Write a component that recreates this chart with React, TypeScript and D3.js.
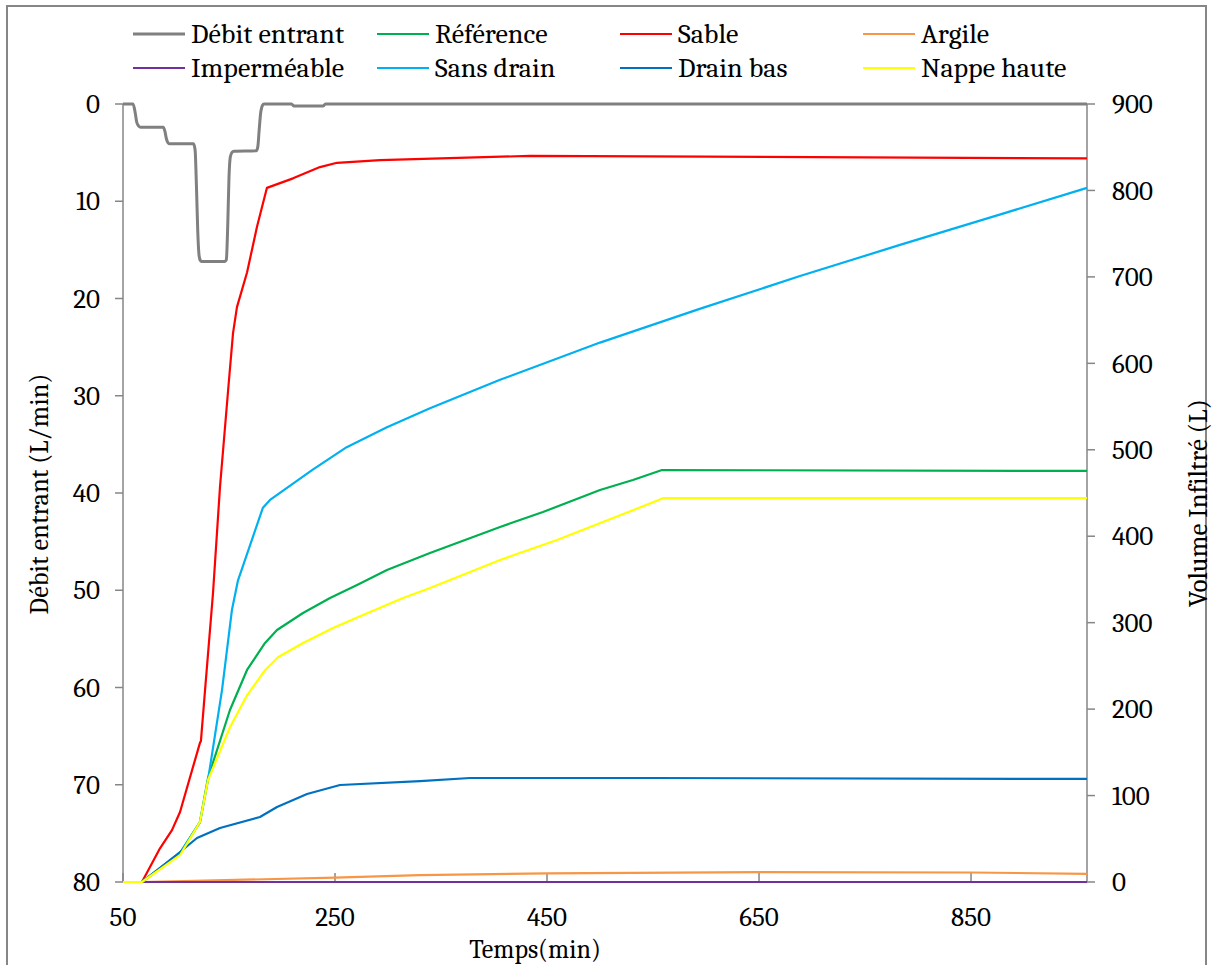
import React from "react";
import * as d3 from "d3";

// ---- Data ----
const debitT = [50, 59.5, 61.5, 63, 65, 66.5, 88, 89.5, 91, 92.5, 94, 116.5, 118, 119.3, 120.5, 121.8, 123, 124.5, 146, 147.5, 148.8, 150, 151.3, 153, 154.5, 176, 177.3, 178.5, 180, 181.5, 183, 209, 211, 239, 241, 959.4];
const debitQ = [0, 0, 0.9, 1.9, 2.3, 2.4, 2.4, 2.8, 3.6, 4.0, 4.1, 4.1, 4.7, 8.5, 13.0, 15.6, 16.1, 16.2, 16.2, 16.0, 12.5, 7.5, 5.4, 4.95, 4.85, 4.8, 4.3, 2.6, 0.8, 0.15, 0, 0, 0.2, 0.2, 0, 0];

const sableT = [50, 67.9, 84.9, 96.2, 103.8, 122.6, 123.5, 127.4, 134.9, 141.5, 150, 153.8, 157.5, 167, 176.4, 185.8, 210.4, 235.8, 251.9, 292.5, 434, 959.4];
const sableV = [0, 0, 39, 60, 81, 161, 163, 222, 334, 457, 581, 635, 665, 705, 758, 803, 814, 827, 832, 835, 840, 837];

const sansDrainT = [50, 67.9, 103.8, 122.6, 130.2, 143.4, 152.8, 158.5, 182, 188.7, 204.7, 229, 261, 299, 339.6, 405.7, 500, 594, 688.7, 783, 877, 959.4];
const sansDrainV = [0, 0, 33.5, 69, 118, 222, 315, 349, 433, 442, 456, 477, 503, 526, 548, 581, 624, 663, 701, 737, 772, 803];

const referenceT = [50, 67.9, 103.8, 122.6, 130.2, 150.9, 167, 184, 195.3, 219.8, 245.3, 270.8, 299, 339.6, 405.7, 446.2, 500, 531, 558.5, 959.4];
const referenceV = [0, 0, 33.5, 69.4, 120.3, 199, 245.3, 276.5, 291.5, 311.2, 328.5, 343.6, 361, 380.6, 410.7, 428, 453.5, 465, 476.6, 475.5];

const nappeT = [50, 67.9, 103.8, 122.6, 130.2, 150.9, 167, 184, 196.2, 219.8, 248.1, 276.4, 314.2, 339.6, 405.7, 459.4, 531, 559.4, 959.4];
const nappeV = [0, 0, 31, 69.4, 118, 179, 216, 245, 260, 276.5, 293.8, 309, 328.5, 340, 372.5, 395.6, 430, 444, 444];

const drainBasT = [50, 67.9, 103.8, 119.8, 141.5, 179.2, 195.3, 223.6, 254.7, 330.2, 377.4, 547, 959.4];
const drainBasV = [0, 0, 34.7, 50.9, 62.5, 75.2, 86.8, 101.8, 112.2, 116.8, 120.3, 120.3, 119.2];

const argileT = [50, 68, 250, 330, 450, 650, 850, 959.4];
const argileV = [0, 0, 5, 8, 10, 11.5, 11, 9.5];

const impermT = [50, 959.4];
const impermV = [0, 0];

const xTicks = [50, 250, 450, 650, 850];
const leftTicks = [0, 10, 20, 30, 40, 50, 60, 70, 80];
const rightTicks = [0, 100, 200, 300, 400, 500, 600, 700, 800, 900];

const legendItems = [
  { name: "Débit entrant", color: "#808080", w: 3 },
  { name: "Référence", color: "#00B050", w: 2 },
  { name: "Sable", color: "#FF0000", w: 2 },
  { name: "Argile", color: "#F79646", w: 2 },
  { name: "Imperméable", color: "#7030A0", w: 2 },
  { name: "Sans drain", color: "#00B0F0", w: 2 },
  { name: "Drain bas", color: "#0070C0", w: 2 },
  { name: "Nappe haute", color: "#FFFF00", w: 2 },
];

const FONT = "Cambria, 'Liberation Serif', 'Times New Roman', serif";
const AXIS = "#868686";

export default function App() {
  const x = d3.scaleLinear().domain([50, 959.4]).range([123, 1087]);
  const yL = d3.scaleLinear().domain([0, 80]).range([104, 882]);
  const yR = d3.scaleLinear().domain([0, 900]).range([882, 104]);

  const lineR = (ts: number[], vs: number[]) =>
    d3
      .line<number>()
      .x((_, i) => x(ts[i]))
      .y((v) => yR(v))(vs) || "";
  const lineDebit =
    d3
      .line<number>()
      .x((_, i) => x(debitT[i]))
      .y((v) => yL(v))
      .curve(d3.curveMonotoneX)(debitQ) || "";

  const seriesR = [
    { t: referenceT, v: referenceV, c: "#00B050" },
    { t: sableT, v: sableV, c: "#FF0000" },
    { t: argileT, v: argileV, c: "#F79646" },
    { t: impermT, v: impermV, c: "#7030A0" },
    { t: sansDrainT, v: sansDrainV, c: "#00B0F0" },
    { t: drainBasT, v: drainBasV, c: "#0070C0" },
    { t: nappeT, v: nappeV, c: "#FFFF00" },
  ];

  const legCols = [133, 377, 620, 863];
  const legRows = [34, 68];

  return (
    <svg
      width={1213}
      height={965}
      style={{ position: "absolute", left: 0, top: 0, background: "#fff" }}
      fontFamily={FONT}
    >
      <rect x={0} y={0} width={1213} height={965} fill="#fff" />
      <rect x={7} y={6} width={1199} height={970} fill="none" stroke={AXIS} strokeWidth={2} />

      {/* legend */}
      {legendItems.map((it, i) => {
        const col = i % 4;
        const row = Math.floor(i / 4);
        const lx = legCols[col];
        const ly = legRows[row];
        return (
          <g key={it.name}>
            <line x1={lx} x2={lx + 52} y1={ly} y2={ly} stroke={it.color} strokeWidth={it.w} />
            <text x={lx + 58} y={ly} dy="0.33em" fontSize={28} fill="#000">
              {it.name}
            </text>
          </g>
        );
      })}

      {/* axes */}
      <line x1={123} x2={123} y1={104} y2={882} stroke={AXIS} strokeWidth={1.5} />
      <line x1={1087} x2={1087} y1={104} y2={882} stroke={AXIS} strokeWidth={1.5} />
      <line x1={123} x2={1087} y1={882} y2={882} stroke={AXIS} strokeWidth={1.5} />
      {leftTicks.map((t) => (
        <g key={"l" + t}>
          <line x1={115} x2={123} y1={yL(t)} y2={yL(t)} stroke={AXIS} strokeWidth={1.5} />
          <text x={100} y={yL(t)} dy="0.34em" textAnchor="end" fontSize={27}>
            {t}
          </text>
        </g>
      ))}
      {rightTicks.map((t) => (
        <g key={"r" + t}>
          <line x1={1087} x2={1095} y1={yR(t)} y2={yR(t)} stroke={AXIS} strokeWidth={1.5} />
          <text x={1112} y={yR(t)} dy="0.34em" textAnchor="start" fontSize={27}>
            {t}
          </text>
        </g>
      ))}
      {xTicks.map((t) => (
        <g key={"x" + t}>
          <line x1={x(t)} x2={x(t)} y1={873} y2={882} stroke={AXIS} strokeWidth={1.5} />
          <text x={x(t)} y={917} dy="0.34em" textAnchor="middle" fontSize={27}>
            {t}
          </text>
        </g>
      ))}

      {/* axis titles */}
      <text x={535} y={958} textAnchor="middle" fontSize={26}>
        Temps(min)
      </text>
      <text transform="translate(48,494) rotate(-90)" textAnchor="middle" fontSize={26.5}>
        Débit entrant (L/min)
      </text>
      <text transform="translate(1207,503) rotate(-90)" textAnchor="middle" fontSize={27}>
        Volume Infiltré (L)
      </text>

      {/* series */}
      <path d={lineDebit} fill="none" stroke="#808080" strokeWidth={3} strokeLinejoin="round" />
      {seriesR.map((s, i) => (
        <path key={i} d={lineR(s.t, s.v)} fill="none" stroke={s.c} strokeWidth={2.2} strokeLinejoin="round" />
      ))}
    </svg>
  );
}
